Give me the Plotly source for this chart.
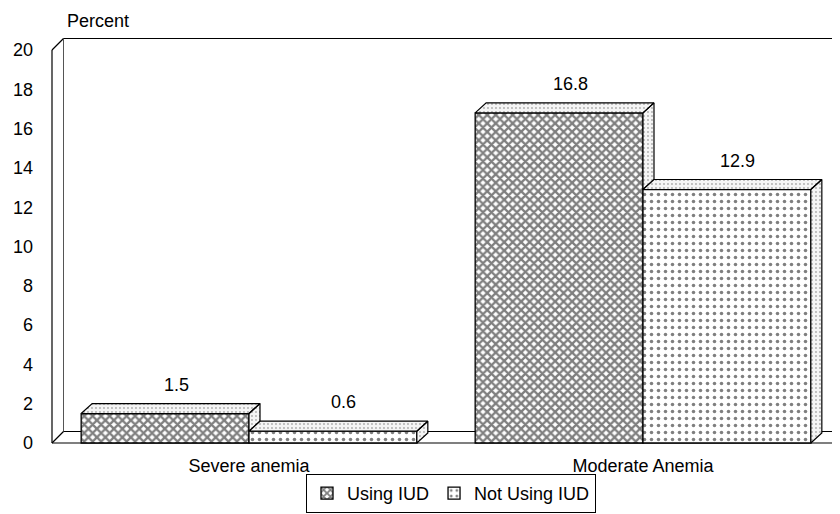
import plotly.graph_objects as go

# ---- data ----
categories = ["Severe anemia", "Moderate Anemia"]
series_names = ["Using IUD", "Not Using IUD"]
using_iud = [1.5, 16.8]
not_using_iud = [0.6, 12.9]
y_tick_values = [0, 2, 4, 6, 8, 10, 12, 14, 16, 18, 20]
y_title = "Percent"

# ---- layout constants (pixel geometry of the 3D look) ----
PAGE_OFF = 8          # default page body margin
W, H = 840 - PAGE_OFF, 514 - PAGE_OFF
M_L, M_R, M_T, M_B = 38, 0, 22, 62
PX_X = 394.0          # pixels per category step
PX_Y = 19.65          # pixels per percent
FRONT_LEFT_PX = 52 - PAGE_OFF
ZERO_PX, TOP_PX = 443 - PAGE_OFF, 50 - PAGE_OFF
X0 = -0.5 - (FRONT_LEFT_PX - M_L) / PX_X
X1 = X0 + (W - M_L - M_R) / PX_X
Y_TOP = 20 + (TOP_PX - M_T) / PX_Y
Y_BOT = -((H - M_B) - ZERO_PX) / PX_Y

BAR_W = 0.426
BAR_DX = 11 / PX_X
BAR_DY = 10 / PX_Y
WALL_DX = 11.5 / PX_X
WALL_DY = 11.5 / PX_Y

FONT = "Arial, Liberation Sans, sans-serif"
FS = 18
series_values = [using_iud, not_using_iud]
offsets = [-BAR_W, 0.0]
patterns = [
    dict(shape="x", fgcolor="black", bgcolor="white", size=6, solidity=0.62),
    dict(shape=".", fgcolor="black", bgcolor="white", size=7, solidity=0.2),
]

fig = go.Figure()
idx = list(range(len(categories)))

# front faces (real bars)
for s, name in enumerate(series_names):
    fig.add_trace(go.Bar(
        x=idx, y=series_values[s], name=name, width=BAR_W, offset=offsets[s],
        marker=dict(color="white", pattern=patterns[s],
                    line=dict(color="black", width=1.3)),
        hoverinfo="skip",
    ))

# top & side faces, computed from the data values
for i in idx:
    for s in range(len(series_names)):
        v = series_values[s][i]
        xa = i + offsets[s]
        xb = xa + BAR_W
        if s + 1 < len(series_names):
            low = min(v, series_values[s + 1][i])
        else:
            low = 0.0
        xs = [xa, xa + BAR_DX, xb + BAR_DX, xb, xa, None,
              xb, xb + BAR_DX, xb + BAR_DX, xb, xb]
        ys = [v, v + BAR_DY, v + BAR_DY, v, v, None,
              v, v + BAR_DY, low + BAR_DY, low, v]
        fig.add_trace(go.Scatter(
            x=xs, y=ys, mode="lines", fill="toself",
            fillcolor="#f2f2f2",
            fillpattern=dict(shape=".", fgcolor="#666666", bgcolor="#f5f5f5",
                             size=4, solidity=0.18),
            line=dict(color="black", width=1.2),
            showlegend=False, hoverinfo="skip",
        ))
        fig.add_annotation(
            x=xa + BAR_W / 2 + BAR_DX, y=v + BAR_DY, text=f"{v:.1f}",
            showarrow=False, yanchor="bottom", yshift=7,
            font=dict(family=FONT, size=FS, color="black"),
        )

# walls and floor (decoration)
line_k = dict(color="black", width=1.2)
line_g = dict(color="#555555", width=1)
shapes = [
    dict(type="line", x0=-0.5, y0=0, x1=-0.5, y1=20, line=line_k),
    dict(type="line", x0=-0.5, y0=20, x1=-0.5 + WALL_DX, y1=20 + WALL_DY, line=line_k),
    dict(type="line", x0=-0.5 + WALL_DX, y0=WALL_DY, x1=-0.5 + WALL_DX, y1=20 + WALL_DY, line=line_g),
    dict(type="line", x0=-0.5 + WALL_DX, y0=20 + WALL_DY, x1=X1 + 1, y1=20 + WALL_DY, line=line_k),
    dict(type="line", x0=-0.5, y0=0, x1=X1 + 1, y1=0, line=line_k),
    dict(type="line", x0=-0.5, y0=0, x1=-0.5 + WALL_DX, y1=WALL_DY, line=line_k),
    dict(type="line", x0=-0.5 + WALL_DX, y0=WALL_DY, x1=X1 + 1, y1=WALL_DY, line=line_k),
]
for sh in shapes:
    sh.update(xref="x", yref="y", layer="below")

fig.add_annotation(
    text=y_title, xref="paper", yref="paper",
    x=(65 - PAGE_OFF - M_L) / (W - M_L - M_R),
    y=1 + (M_T - (21 - PAGE_OFF)) / (H - M_T - M_B),
    xanchor="left", yanchor="middle", showarrow=False,
    font=dict(family=FONT, size=FS, color="black"),
)

fig.update_layout(
    width=W, height=H,
    margin=dict(l=M_L, r=M_R, t=M_T, b=M_B, autoexpand=False),
    paper_bgcolor="white", plot_bgcolor="white",
    barmode="overlay",
    shapes=shapes,
    font=dict(family=FONT, size=FS, color="black"),
    xaxis=dict(range=[X0, X1], tickmode="array", tickvals=idx, ticktext=categories,
               showgrid=False, zeroline=False, showline=False, ticks="",
               ticklabelstandoff=1, tickfont=dict(size=FS)),
    yaxis=dict(range=[Y_BOT, Y_TOP], tickmode="array", tickvals=y_tick_values,
               showgrid=False, zeroline=False, showline=False, ticks="",
               ticklabelstandoff=12, tickfont=dict(size=FS)),
    legend=dict(orientation="h",
                x=(451 - PAGE_OFF - M_L) / (W - M_L - M_R), xanchor="center",
                y=-((474 - PAGE_OFF) - (H - M_B)) / (H - M_T - M_B), yanchor="top",
                bordercolor="black", borderwidth=1, bgcolor="white",
                font=dict(size=FS), itemwidth=30, traceorder="normal"),
    showlegend=True,
)

fig.write_html("out.html")
